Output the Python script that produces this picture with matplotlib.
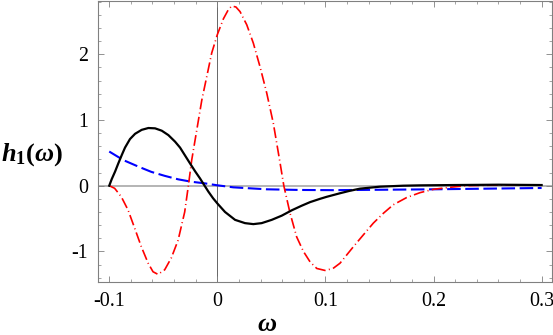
import numpy as np
import matplotlib
matplotlib.use("Agg")
import matplotlib.pyplot as plt
from matplotlib.ticker import FixedLocator, MultipleLocator

plt.rcParams['font.family'] = ['Liberation Serif', 'DejaVu Serif']
plt.rcParams['mathtext.fontset'] = 'custom'
plt.rcParams['mathtext.rm'] = 'Liberation Serif'
plt.rcParams['mathtext.it'] = 'Liberation Serif:italic'
plt.rcParams['mathtext.bf'] = 'Liberation Serif:bold'
plt.rcParams['mathtext.bfit'] = 'Liberation Serif:bold:italic'

# values
w_black = [-0.1, -0.0977, -0.0946, -0.0916, -0.0884, -0.0854, -0.0808, -0.0761,
           -0.070, -0.0638, -0.0576, -0.0514, -0.0453, -0.0391, -0.0345, -0.0253,
           -0.0206, -0.016, -0.0118, -0.0083, -0.004, 0.0, 0.0071, 0.0164, 0.0256,
           0.0333, 0.041, 0.0503, 0.0596, 0.0688, 0.078, 0.0858, 0.095, 0.101,
           0.1135, 0.122, 0.132, 0.1505, 0.172, 0.1875, 0.22, 0.26, 0.3]
h_black = [0.0, 0.10, 0.215, 0.34, 0.467, 0.58, 0.71, 0.79,
           0.85, 0.878, 0.873, 0.837, 0.77, 0.67, 0.58, 0.34,
           0.22, 0.11, 0.0, -0.09, -0.19, -0.27, -0.40, -0.52, -0.57,
           -0.585, -0.57, -0.52, -0.456, -0.375, -0.305, -0.25, -0.20, -0.17,
           -0.115, -0.08, -0.045, -0.015, 0.0, 0.005, 0.01, 0.015, 0.01]

w_blue = [-0.1, -0.087, -0.073, -0.061, -0.0487, -0.0363, -0.024, -0.0117,
          0.0, 0.0148, 0.0457, 0.0765, 0.107, 0.15, 0.2, 0.25, 0.3]
h_blue = [0.52, 0.39, 0.29, 0.21, 0.15, 0.097, 0.06, 0.036,
          0.006, -0.025, -0.055, -0.065, -0.068, -0.062, -0.055, -0.045, -0.035]

w_red = [-0.1, -0.095, -0.0888, -0.0826, -0.0764, -0.0703, -0.064, -0.0595,
         -0.0549, -0.0487, -0.0426, -0.0363, -0.0302, -0.0268, -0.0237, -0.019,
         -0.0144, -0.0098, -0.0052, 0.0, 0.0056, 0.0102, 0.0133, 0.0172, 0.021,
         0.0272, 0.0333, 0.0395, 0.0457, 0.0518, 0.058, 0.0615, 0.0673, 0.0734,
         0.0796, 0.0858, 0.092, 0.0996, 0.107, 0.1135, 0.1258, 0.135, 0.1443,
         0.1536, 0.1628, 0.1752, 0.1875, 0.2, 0.215, 0.23, 0.26, 0.3]
h_red = [0.0, -0.04, -0.17, -0.37, -0.65, -0.93, -1.18, -1.31,
         -1.35, -1.28, -1.10, -0.83, -0.40, 0.0, 0.39, 0.85,
         1.30, 1.66, 2.02, 2.30, 2.54, 2.68, 2.735, 2.72, 2.65,
         2.45, 2.17, 1.81, 1.41, 0.95, 0.35, 0.0, -0.42, -0.78,
         -1.0, -1.16, -1.26, -1.29, -1.26, -1.18, -0.93, -0.75, -0.57,
         -0.42, -0.29, -0.18, -0.106, -0.055, -0.025, 0.0, 0.01, 0.01]

x_ticks = [-0.1, 0.0, 0.1, 0.2, 0.3]
x_labels = ['-0.1', '0', '0.1', '0.2', '0.3']
y_ticks = [-1, 0, 1, 2]
y_labels = ['-1', '0', '1', '2']

fig = plt.figure(figsize=(5.53, 3.35), dpi=100)
ax = fig.add_axes([98 / 553, 1 - 282 / 335, 454 / 553, 281.5 / 335])

# axes through the origin
ax.axhline(0, color='#a0a0a0', lw=1.1, zorder=1)
ax.axvline(0, color='#666666', lw=0.7, zorder=1)

ax.plot(w_blue, h_blue, color='#0000ff', lw=1.5, ls=(0, (6.5, 2.2)), zorder=3)
ax.plot(w_red, h_red, color='#ff0000', lw=1.2, ls=(0, (6.5, 2.0, 0.6, 2.0)), zorder=3)
ax.plot(w_black, h_black, color='black', lw=1.6, zorder=4)

ax.set_xlim(-0.1104, 0.3096)
ax.set_ylim(-1.466, 2.819)

ax.xaxis.set_major_locator(FixedLocator(x_ticks))
ax.set_xticklabels(x_labels)
ax.xaxis.set_minor_locator(MultipleLocator(0.02))
ax.yaxis.set_major_locator(FixedLocator(y_ticks))
ax.set_yticklabels(y_labels)
ax.yaxis.set_minor_locator(MultipleLocator(0.2))

ax.tick_params(which='both', direction='in', top=True, right=True,
               color='#808080', labelsize=14.4)
ax.tick_params(which='major', length=4, width=0.6, pad=7)
ax.tick_params(which='minor', length=2.2, width=0.5)
for s in ax.spines.values():
    s.set_color('#808080')
    s.set_linewidth(0.8)

fig.text(0.002, 1 - 155 / 335, r'$\mathbfit{h}_{\mathbf{1}}\mathbf{(}\mathbfit{\omega}\mathbf{)}$',
         fontsize=19, ha='left', va='center')
fig.text(266.7 / 553, 1 - 325 / 335, r'$\mathbfit{\omega}$',
         fontsize=19, ha='center', va='center')

fig.savefig('out.png', dpi=100)
